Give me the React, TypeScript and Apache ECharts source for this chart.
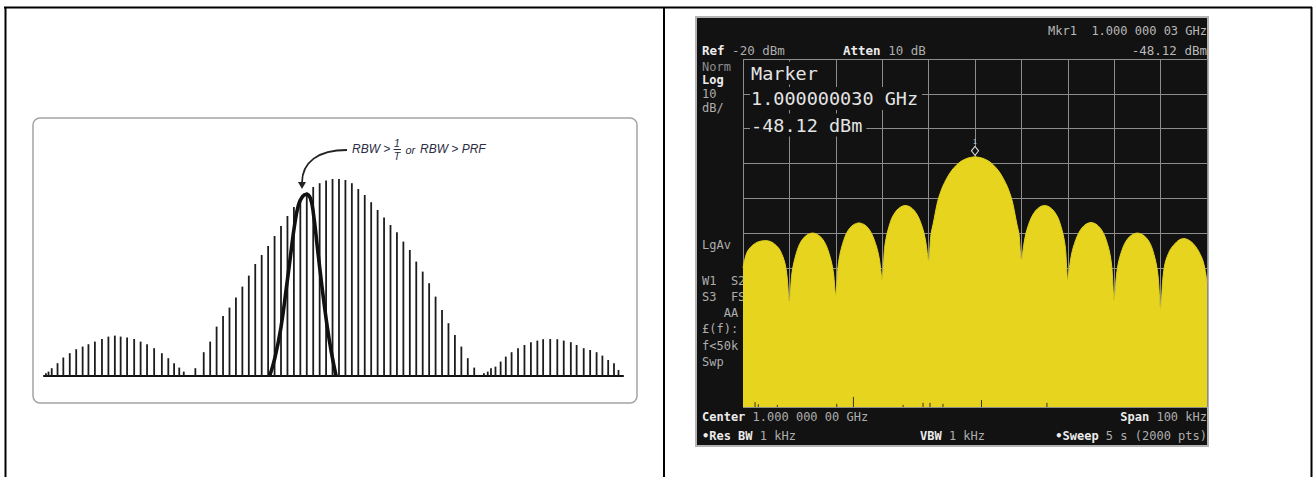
import React, { useEffect, useRef } from "react";
import * as echarts from "echarts";

// ---------------- Left panel: line spectrum of a pulsed carrier (relative amplitude) ----------------
const lineHarmonics = [
  -45.5, -45.1, -44.6, -43.7, -42.8, -41.8, -40.8, -39.8, -38.9, -37.9, -36.8, -35.8, -34.8, -33.9,
  -32.9, -31.8, -30.8, -29.8, -28.7, -27.5, -26.5, -25.6, -24.8, -24.1, -22.3,
  -21, -20, -19, -18, -17, -16, -15, -14, -13, -12, -11, -10, -9, -8, -7, -6, -5, -4, -3, -2, -1,
  0, 1, 2, 3, 4, 5, 6, 7, 8, 9, 10, 11, 12, 13, 14, 15, 16, 17, 18, 19, 20, 21,
  22.5, 23.1, 23.6, 24.3, 25.1, 25.9, 26.8, 27.8, 28.8, 29.8, 30.8, 31.7, 32.8, 33.9, 34.9, 36.0,
  36.9, 38.0, 39.0, 40.0, 40.9, 41.8, 42.7, 43.4,
];
const lineAmplitudes = [
  1.4, 2.2, 3.9, 6.4, 9.2, 11.4, 13.4, 14.7, 15.9, 17.2, 18.5, 19.7, 20.2, 19.7,
  19.2, 18.5, 17.2, 15.9, 13.9, 11.4, 8.9, 6.4, 4.2, 2.2, 3.9,
  11.9, 17.2, 24.7, 30, 34.2, 39.2, 44.7, 50.2, 56, 60.5, 65, 70, 75, 80, 84.5, 88.5, 91.8, 94.5, 96.4, 97.7,
  98.5, 98.5, 98, 96.4, 93.5, 90.5, 86.9, 83, 79.2, 75.5, 71.9, 67.2, 63, 57.2, 52.2, 46.4, 39.7, 33, 26.4,
  20.5, 14.7, 8.9, 4.2,
  1.4, 2.2, 3.9, 4.7, 7.2, 9.7, 11.9, 13.9, 15.5, 16.9, 17.7, 18.4, 18.5, 18.4, 17.7, 16.9,
  15.5, 13.9, 13, 11.9, 10.2, 8, 6.4, 3,
];
// resolution-bandwidth filter shape drawn over the lines
const rbwFilterOffsets = [
  -10.76, -9.96, -9.03, -8.24, -7.51, -6.89, -6.29, -5.67, -5.06, -4.44, -3.94, -3.34, -2.61, -1.86, -1.2, -0.45,
];
const rbwFilterAmplitudes = [0, 8.9, 23.9, 42.2, 60.5, 75.5, 85.5, 89.7, 90.9, 88.9, 80.5, 63.9, 43.9, 25.5, 12.2, 0];

// ---------------- Right panel: spectrum analyzer trace ----------------
const spanOffsetsKHz = [
  -50, -49.5, -49, -48, -47, -46, -45, -44, -43, -42, -41, -40.5, -40,
  -39.5, -39, -38, -37, -36, -35, -34, -33, -32, -31, -30.5, -30,
  -29.5, -29, -28, -27, -26, -25, -24, -23, -22, -21, -20.5, -20,
  -19.5, -19, -18, -17, -16, -15, -14, -13, -12, -11, -10.5, -10,
  -9.5, -9, -8, -7, -6, -5, -4, -3, -2, -1, 0, 1, 2, 3, 4, 5, 6, 7, 8, 9, 9.5, 10,
  10.5, 11, 12, 13, 14, 15, 16, 17, 18, 19, 19.5, 20,
  20.5, 21, 22, 23, 24, 25, 26, 27, 28, 29, 29.5, 30,
  30.5, 31, 32, 33, 34, 35, 36, 37, 38, 39, 39.5, 40,
  40.5, 41, 42, 43, 44, 45, 46, 47, 48, 49, 49.5, 50,
];
const traceDbm = [
  -80.0, -77.0, -75.2, -73.6, -72.7, -72.3, -72.2, -72.5, -73.4, -75.0, -78.5, -82.5, -90.0,
  -82.0, -78.3, -73.8, -71.5, -70.4, -70.0, -70.4, -71.5, -73.8, -78.0, -81.5, -88.0,
  -79.5, -75.5, -71.0, -68.6, -67.5, -67.1, -67.5, -68.6, -71.0, -75.0, -78.5, -83.6,
  -74.5, -70.5, -66.0, -63.7, -62.5, -62.1, -62.5, -63.7, -66.0, -70.0, -73.5, -78.3,
  -70.5, -67.3, -60.7, -56.8, -54.1, -52.0, -50.5, -49.4, -48.7, -48.3, -48.12, -48.3, -48.7, -49.4, -50.5,
  -52.0, -54.1, -56.8, -60.7, -67.3, -70.5, -78.0,
  -73.5, -70.0, -66.0, -63.7, -62.5, -62.1, -62.5, -63.7, -66.0, -70.5, -74.5, -83.4,
  -78.5, -75.0, -71.0, -68.6, -67.4, -67.0, -67.4, -68.6, -71.0, -75.5, -80.0, -89.5,
  -82.0, -78.0, -73.8, -71.5, -70.4, -70.0, -70.4, -71.5, -73.8, -78.5, -83.0, -92.0,
  -83.0, -78.5, -75.0, -73.2, -72.0, -71.6, -72.0, -73.0, -74.8, -77.5, -80.0, -84.0,
];
const noiseSpikeOffsetsKHz = [-47.4, -46.7, -42.6, -29.8, -26.2, -15.5, -11.2, -9.7, -6.9, 1.4, 15.5];
const noiseSpikeDbm = [-118.6, -119.2, -119.4, -119.1, -117.1, -119.4, -118.8, -118.8, -119.1, -118.0, -118.8];
const markerOffsetKHz = 0;
const markerDbm = -48.12;

const MONO = '"DejaVu Sans Mono", "Liberation Mono", monospace';
const SANS = '"Liberation Sans", Arial, sans-serif';
const GRAY = "#adadad";
const WHITE = "#ececec";
const INK = "#2b2d42";

function t(text: string, x: number, y: number, o: any = {}) {
  return {
    type: "text",
    x,
    y,
    z: o.z ?? 1,
    style: {
      text,
      fill: o.fill ?? GRAY,
      fontSize: o.size ?? 12,
      fontFamily: o.family ?? MONO,
      fontWeight: o.bold ? "bold" : "normal",
      fontStyle: o.italic ? "italic" : "normal",
      align: o.align ?? "left",
      verticalAlign: "middle",
      backgroundColor: o.bg,
      padding: o.pad,
    },
  };
}

function buildOption() {
  const bars = lineHarmonics.map((f, i) => [f, lineAmplitudes[i]]);
  const rbw = rbwFilterOffsets.map((f, i) => [f, rbwFilterAmplitudes[i]]);
  const trace = spanOffsetsKHz.map((f, i) => [f, traceDbm[i]]);
  const spikes = noiseSpikeOffsetsKHz.map((f, i) => [f, noiseSpikeDbm[i]]);
  const cw = 12 * 0.602;

  const elements: any[] = [
    // table frame
    { type: "line", z: 5, shape: { x1: 4, y1: 7.5, x2: 1312, y2: 7.5 }, style: { stroke: "#000", lineWidth: 2 } },
    { type: "line", z: 5, shape: { x1: 5.5, y1: 7, x2: 5.5, y2: 477 }, style: { stroke: "#000", lineWidth: 2 } },
    { type: "line", z: 5, shape: { x1: 664, y1: 7, x2: 664, y2: 477 }, style: { stroke: "#000", lineWidth: 2 } },
    { type: "line", z: 5, shape: { x1: 1311.5, y1: 7, x2: 1311.5, y2: 477 }, style: { stroke: "#000", lineWidth: 2 } },
    // left rounded panel
    { type: "rect", z: -2, shape: { x: 33, y: 118, width: 604, height: 285, r: 7 }, style: { fill: "#fff", stroke: "#a4a4a4", lineWidth: 1.5 } },
    // analyzer screen
    { type: "rect", z: -2, shape: { x: 696, y: 17, width: 512, height: 429 }, style: { fill: "#121212", stroke: "#b4b4b4", lineWidth: 2 } },
    // annotation arrow
    { type: "bezierCurve", z: 4, shape: { x1: 347, y1: 150, cpx1: 318, cpy1: 150, cpx2: 302, cpy2: 162, x2: 302, y2: 183 }, style: { stroke: "#222", lineWidth: 1.8, fill: null } },
    { type: "polygon", z: 4, shape: { points: [[298, 182], [306, 182], [302, 189]] }, style: { fill: "#222" } },
    t("RBW >", 352, 149, { family: SANS, italic: true, size: 12, fill: INK, z: 4 }),
    t("1", 397, 143, { family: SANS, italic: true, size: 10.5, fill: INK, align: "center", z: 4 }),
    { type: "line", z: 4, shape: { x1: 393.5, y1: 149.5, x2: 401, y2: 149.5 }, style: { stroke: INK, lineWidth: 1 } },
    t("T", 397, 156, { family: SANS, italic: true, size: 10.5, fill: INK, align: "center", z: 4 }),
    t("or", 405.5, 150, { family: SANS, italic: true, size: 11, fill: INK, z: 4 }),
    t("RBW > PRF", 420, 149, { family: SANS, italic: true, size: 12, fill: INK, z: 4 }),

    // analyzer header
    t("Mkr1  1.000 000 03 GHz", 1207, 31, { align: "right", fill: "#b8b8b8" }),
    t("Ref", 702, 50, { bold: true, fill: WHITE, size: 12.5 }),
    t("-20 dBm", 702 + 4 * 12.5 * 0.602, 50, { size: 12.5 }),
    t("Atten", 843, 50, { bold: true, fill: WHITE, size: 12.5 }),
    t("10 dB", 843 + 6 * 12.5 * 0.602, 50, { size: 12.5 }),
    t("-48.12 dBm", 1207, 50, { align: "right", size: 12.5, fill: "#b8b8b8" }),
    // left status column
    t("Norm", 702, 67, { fill: "#8e8e8e" }),
    t("Log", 702, 80, { bold: true, fill: WHITE }),
    t("10", 702, 93.5),
    t("dB/", 702, 108),
    t("LgAv", 702, 245),
    t("W1  S2", 702, 281),
    t("S3  FS", 702, 297),
    t("AA", 702 + 3 * cw, 313),
    t("£(f):", 702, 329),
    t("f<50k", 702, 346),
    t("Swp", 702, 362),
    // footer
    t("Center", 702, 417, { bold: true, fill: WHITE }),
    t("1.000 000 00 GHz", 702 + 7 * cw, 417),
    t("Span", 1207 - 8 * cw, 417, { bold: true, fill: WHITE, align: "right" }),
    t("100 kHz", 1207, 417, { align: "right" }),
    t("•Res BW", 702, 436, { bold: true, fill: WHITE }),
    t("1 kHz", 702 + 8 * cw, 436),
    t("VBW", 920, 436, { bold: true, fill: WHITE }),
    t("1 kHz", 920 + 4 * cw, 436),
    t("•Sweep", 1207 - 15 * cw, 436, { bold: true, fill: WHITE, align: "right" }),
    t("5 s (2000 pts)", 1207, 436, { align: "right" }),
    // marker readout
    t("Marker", 750, 73, { size: 18.5, fill: "#e4e4e4", bg: "#121212", pad: [2, 4, 2, 1], z: 3 }),
    t("1.000000030 GHz", 750, 98.5, { size: 18.5, fill: "#e4e4e4", bg: "#121212", pad: [2, 4, 2, 1], z: 3 }),
    t("-48.12 dBm", 750, 125, { size: 18.5, fill: "#e4e4e4", bg: "#121212", pad: [2, 4, 2, 1], z: 3 }),
  ];

  return {
    animation: false,
    backgroundColor: "#ffffff",
    grid: [
      { left: 44, top: 176, width: 579, height: 200 },
      { left: 743, top: 59, width: 464, height: 348 },
    ],
    xAxis: [
      {
        gridIndex: 0, type: "value", min: -45.8, max: 44.1,
        axisLine: { show: true, onZero: false, lineStyle: { color: "#111", width: 2.2 } },
        axisTick: { show: false }, axisLabel: { show: false }, splitLine: { show: false },
      },
      {
        gridIndex: 1, type: "value", min: -50, max: 50, interval: 10,
        axisLine: { show: false }, axisTick: { show: false }, axisLabel: { show: false },
        splitLine: { show: true, lineStyle: { color: "#8c8c8c", width: 1 } },
      },
    ],
    yAxis: [
      { gridIndex: 0, type: "value", min: 0, max: 100, show: false },
      {
        gridIndex: 1, type: "value", min: -120, max: -20, interval: 10,
        axisLine: { show: false }, axisTick: { show: false }, axisLabel: { show: false },
        splitLine: { show: true, lineStyle: { color: "#8c8c8c", width: 1 } },
      },
    ],
    graphic: { elements },
    series: [
      {
        type: "bar", xAxisIndex: 0, yAxisIndex: 0, data: bars, barWidth: 1.8,
        itemStyle: { color: "#1c1c1c" }, silent: true,
      },
      {
        type: "line", xAxisIndex: 0, yAxisIndex: 0, data: rbw, smooth: 0.45, symbol: "none", z: 3,
        lineStyle: { color: "#111", width: 3.6 }, silent: true,
      },
      {
        type: "line", xAxisIndex: 1, yAxisIndex: 1, data: trace, smooth: 0.3, symbol: "none", z: 2,
        lineStyle: { color: "#e4d21e", width: 1 },
        areaStyle: { origin: "start", color: "#e6d41f", opacity: 1 },
        markPoint: {
          symbol: "diamond", symbolSize: [7, 9], symbolOffset: [0, -6],
          itemStyle: { color: "#121212", borderColor: "#d8d8d8", borderWidth: 1.2 },
          label: { show: true, position: "top", formatter: "1", color: "#cfcfcf", fontSize: 7, distance: 1 },
          data: [{ coord: [markerOffsetKHz, markerDbm] }],
        },
        silent: true,
      },
      {
        type: "custom", xAxisIndex: 1, yAxisIndex: 1, data: spikes, z: 4, silent: true,
        renderItem: (params: any, api: any) => {
          const top = api.coord([api.value(0), api.value(1)]);
          const bot = api.coord([api.value(0), -120]);
          return { type: "line", shape: { x1: top[0], y1: top[1], x2: bot[0], y2: bot[1] }, style: { stroke: "#3a3510", lineWidth: 1 } };
        },
      },
    ],
  };
}

export default function App() {
  const ref = useRef<HTMLDivElement>(null);
  useEffect(() => {
    const chart = echarts.init(ref.current as HTMLDivElement, undefined, { renderer: "svg" });
    chart.setOption(buildOption() as any);
    return () => chart.dispose();
  }, []);
  return (
    <div
      ref={ref}
      style={{ position: "absolute", left: 0, top: 0, width: 1315, height: 477, background: "#fff" }}
    />
  );
}
